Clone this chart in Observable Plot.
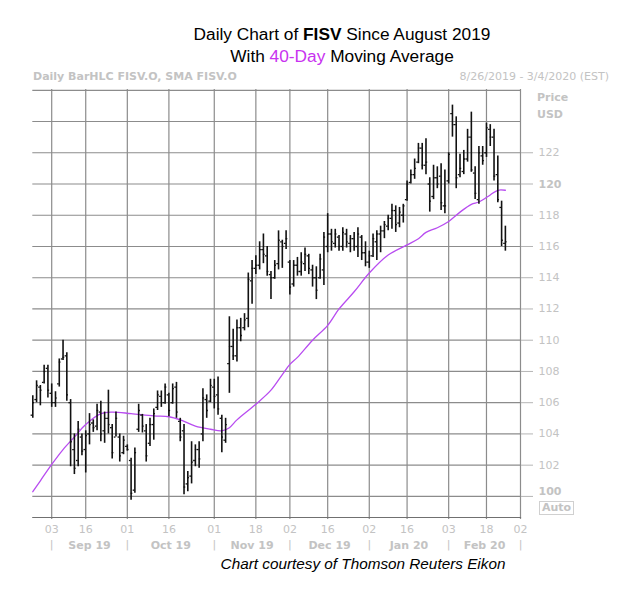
<!DOCTYPE html>
<html><head><meta charset="utf-8">
<script src="https://cdn.jsdelivr.net/npm/d3@7"></script>
<script src="https://cdn.jsdelivr.net/npm/@observablehq/plot@0.6"></script>
<style>
body{margin:0;background:#fff;}
#wrap{position:relative;width:628px;height:599px;overflow:hidden;font-family:"Liberation Sans",Arial,sans-serif;background:#fff;}
.t{position:absolute;white-space:nowrap;line-height:20px;}
.g{color:#c3c3c3;font-family:"DejaVu Sans",sans-serif;font-size:11px;line-height:14px;}
#chart{position:absolute;left:0;top:0;}
</style></head><body><div id="wrap">
<div id="chart"></div>
<div class="t" style="left:0;width:684px;text-align:center;top:24px;font-size:17.3px;color:#000;">Daily Chart of <b>FISV</b> Since August 2019</div>
<div class="t" style="left:0;width:684px;text-align:center;top:46px;font-size:17.3px;color:#000;">With <span style="color:#c832f0">40-Day</span> Moving Average</div>
<div class="t g" style="left:33px;top:70px;font-weight:bold;">Daily BarHLC FISV.O, SMA FISV.O</div>
<div class="t g" style="right:19px;top:70px;">8/26/2019 - 3/4/2020 (EST)</div>
<div class="t g" style="left:537px;top:91px;font-weight:bold;">Price</div>
<div class="t g" style="left:537px;top:108px;font-weight:bold;">USD</div>
<div class="t g" style="left:539px;top:501px;font-weight:bold;border:1px solid #d0d0d0;padding:0 2px;line-height:12px;">Auto</div>
<div class="t" style="left:0;width:726px;text-align:center;top:554px;font-size:15.3px;font-style:italic;color:#000;">Chart courtesy of Thomson Reuters Eikon</div>
</div>
<script>
// OHLC per trading day, starting 8/26/2019 (index 0)
const highs = [106.45,107.4,107.1,108.4,108.4,107.2,106.7,108.8,110.0,109.2,
106.2,104.0,104.8,104.0,104.2,105.3,104.9,105.9,106.1,105.4,
106.8,104.6,105.4,104.0,103.85,103.3,102.45,103.1,105.9,105.25,
104.6,105.0,105.6,106.75,106.75,107.2,106.6,107.2,107.3,105.0,
104.6,101.6,103.5,103.3,103.5,106.9,106.5,107.5,107.5,107.65,
105.2,105.0,111.5,110.7,111.3,111.4,111.7,114.3,115.1,115.4,
116.3,116.8,116.0,114.4,115.1,117.0,116.4,117.0,115.1,115.1,
115.3,115.6,115.9,115.5,114.8,114.7,115.5,116.9,118.1,117.1,
117.1,116.7,117.2,117.1,116.7,116.9,117.2,116.7,116.3,115.7,
116.8,117.0,117.3,117.6,118.0,118.7,118.6,118.5,118.7,120.2,
120.9,121.6,122.6,122.6,122.9,120.4,121.2,121.1,121.3,120.9,
122.0,125.05,124.3,121.9,122.15,123.5,124.6,121.1,122.4,122.4,
123.9,123.8,123.5,121.8,118.9,117.3];
const lows = [105.0,106.0,105.8,107.2,106.3,105.7,105.7,107.0,108.7,106.1,
101.9,101.4,101.9,102.6,101.5,103.3,104.1,104.2,103.5,103.4,
104.0,102.4,103.8,102.2,102.67,102.9,99.76,100.2,104.1,104.06,
102.2,103.2,103.6,105.5,105.7,105.9,105.1,105.9,105.0,103.5,
100.1,100.3,100.8,101.9,101.8,103.5,105.0,106.0,105.6,105.2,
102.8,103.4,106.6,108.7,108.6,109.9,110.6,110.8,112.3,114.2,
114.5,114.9,114.1,112.6,113.9,114.5,114.6,115.8,112.9,113.4,
114.1,114.1,114.4,114.2,113.4,112.6,113.9,113.5,115.6,115.7,
115.9,115.7,115.7,115.9,115.6,115.7,115.3,115.1,114.7,114.6,
115.3,115.1,115.6,116.5,117.0,117.1,116.9,117.2,117.5,118.9,
120.0,120.3,121.3,120.9,120.6,118.2,119.0,119.7,118.3,118.1,
120.0,123.0,119.7,120.4,120.6,121.4,120.75,119.0,118.7,121.2,
121.7,122.4,120.2,118.8,116.0,115.7];
const opens = [105.2,106.2,107.0,107.3,108.2,106.6,106.0,107.2,108.8,109.0,
106.0,103.0,102.3,103.8,103.0,104.0,104.7,104.5,105.4,104.2,
105.0,104.4,103.8,103.8,102.8,103.2,102.3,100.4,104.3,105.2,
104.2,103.4,104.6,105.7,106.4,106.0,106.5,106.0,107.0,104.8,
104.2,100.8,101.3,102.3,103.0,104.0,106.2,106.1,107.0,106.5,
105.0,103.6,108.5,109.6,109.0,110.8,110.8,111.4,113.8,114.6,
114.8,115.8,115.4,114.2,114.0,114.9,116.3,116.2,115.0,113.6,
114.8,114.4,114.9,115.4,114.5,114.0,114.0,114.5,116.0,116.8,
116.2,116.6,116.0,116.8,116.2,116.5,116.0,116.6,115.6,115.0,
115.4,116.3,116.8,117.0,117.3,117.8,118.3,117.5,118.0,119.0,
120.1,120.6,121.4,122.3,121.2,120.0,119.2,120.4,120.5,118.6,
120.2,124.5,123.8,120.6,120.8,121.6,123.0,120.7,119.0,121.8,
122.0,123.5,123.0,120.6,118.5,116.2];
const closes = [106.0,107.1,106.8,108.0,106.8,106.0,106.3,108.6,108.9,106.5,
103.5,101.8,104.3,102.9,103.9,104.6,104.4,105.5,104.0,105.0,
104.6,102.8,105.0,102.6,103.6,103.0,100.2,102.8,105.5,104.5,
102.6,104.6,105.3,106.5,106.0,107.0,105.5,106.9,105.4,103.8,
100.6,101.2,102.2,103.0,102.4,106.3,105.5,107.1,106.4,105.6,
103.8,104.6,109.6,109.0,110.8,110.3,111.3,113.9,114.6,114.8,
115.8,115.5,114.4,114.0,114.8,116.4,116.0,116.5,113.4,114.8,
114.4,115.0,115.5,114.6,114.0,113.2,115.2,116.6,116.8,116.3,
116.8,116.0,116.9,116.3,116.5,116.0,116.8,115.6,115.0,115.4,
116.5,116.8,117.0,117.4,117.8,118.3,117.4,118.2,118.6,120.0,
120.6,121.0,122.3,121.2,121.4,118.9,120.4,120.0,118.8,118.6,
121.9,123.8,120.4,121.0,121.6,123.0,120.9,119.4,122.0,121.5,
123.6,123.0,120.5,119.0,116.4,116.3];

// 40-day SMA (trading-day index, value)
const maIdx = [0,2,5,8,11,14,18,21,26,32,36,39,43,47,50,52,54,59,63,66,68,70,74,78,81,85,89,94,99,102,104,107,110,113,116,118,121,123,125];
const maVal = [100.3,101.0,102.05,103.0,103.8,104.6,105.3,105.4,105.3,105.15,105.1,104.9,104.5,104.3,104.2,104.4,104.9,105.9,106.8,107.8,108.45,108.9,110.0,110.95,112.0,113.1,114.3,115.45,116.1,116.5,116.9,117.2,117.6,118.2,118.7,118.85,119.3,119.6,119.6];

const xTickIdx = [5,14,25,36,48,59,68,78,89,99,110,120,129];
const xTickLabels = ["03","16","01","16","01","18","02","16","02","16","03","18","02"];
const monthEdges = [5,25,48,68,89,110,129];
const monthLabels = ["Sep 19","Oct 19","Nov 19","Dec 19","Jan 20","Feb 20"];
const yGrid = [100,102,104,106,108,110,112,114,116,118,120,122,124,126];
const yLabelsRegular = [102,104,106,108,110,112,114,116,118,122];
const yLabelsBold = [120];
const yLabelsBottom = [100];

const bars = highs.map((h, i) => ({i, high: h, low: lows[i], open: opens[i], close: closes[i]}));
const ma = maIdx.map((d, k) => ({i: d, v: maVal[k]}));
const months = monthLabels.map((m, k) => ({m, x: (monthEdges[k] + monthEdges[k + 1]) / 2}));
const xLab = new Map(xTickIdx.map((d, k) => [d, xTickLabels[k]]));

const grid = "#8c8c8c", gtext = "#c3c3c3";
const chart = Plot.plot({
  width: 628, height: 599,
  marginTop: 89, marginBottom: 82, marginLeft: 32.3, marginRight: 108,
  x: {domain: [0, 129], axis: null},
  y: {domain: [98.65, 126.05], axis: null},
  style: {fontFamily: "DejaVu Sans, sans-serif", fontSize: "11px", background: "transparent", overflow: "visible"},
  marks: [
    Plot.gridY(yGrid, {stroke: grid, strokeOpacity: 1, strokeWidth: 1.2}),
    Plot.gridX(xTickIdx, {stroke: grid, strokeOpacity: 1, strokeWidth: 1.2, insetBottom: -2}),
    Plot.frame({anchor: "bottom", stroke: "#707070", strokeWidth: 1.2}),
    Plot.axisY(yLabelsRegular, {anchor: "right", tickSize: 12, tickPadding: 6, stroke: "#b5b5b5", fill: gtext}),
    Plot.axisY(yLabelsBold, {anchor: "right", tickSize: 12, tickPadding: 6, stroke: "#b5b5b5", fill: gtext, fontWeight: "bold"}),
    Plot.axisY(yLabelsBottom, {anchor: "right", tickSize: 12, tickPadding: 6, stroke: "#b5b5b5", tickFormat: () => ""}),
    Plot.axisY(yLabelsBottom, {anchor: "right", tickSize: 0, tickPadding: 18, fill: gtext, fontWeight: "bold", dy: -5}),
    Plot.axisX(xTickIdx, {anchor: "bottom", tickSize: 0, tickPadding: 8, tickFormat: d => xLab.get(d), fill: gtext}),
    Plot.text(months, {x: "x", text: "m", frameAnchor: "bottom", dy: 31, fontWeight: "bold", fill: gtext, fontSize: 11}),
    Plot.text(monthEdges, {x: d => d, text: () => "|", frameAnchor: "bottom", dy: 30, fill: gtext, fontSize: 11}),
    Plot.line(ma, {x: "i", y: "v", stroke: "#b84cf0", strokeWidth: 1.3, curve: "catmull-rom"}),
    Plot.ruleX(bars, {x: "i", y1: "low", y2: "high", stroke: "#111", strokeWidth: 1.6}),
    Plot.ruleY(bars, {y: "open", x1: d => d.i - 0.45, x2: "i", stroke: "#111", strokeWidth: 1.3}),
    Plot.ruleY(bars, {y: "close", x1: "i", x2: d => d.i + 0.45, stroke: "#111", strokeWidth: 1.3})
  ]
});
document.getElementById("chart").appendChild(chart);
</script>
</body></html>
